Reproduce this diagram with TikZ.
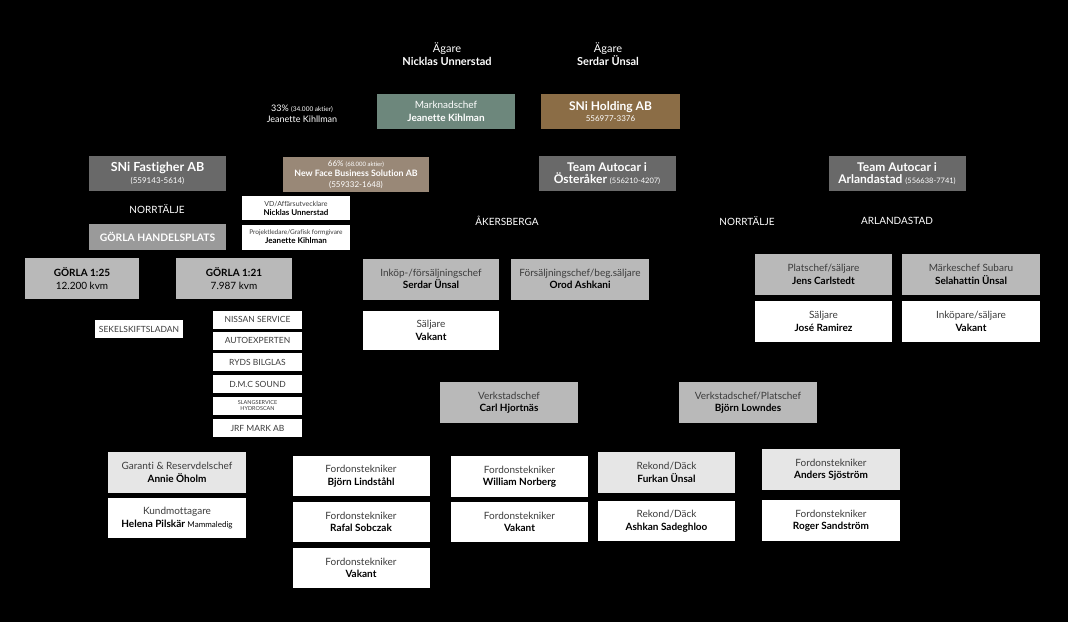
\documentclass[tikz,border=0pt]{standalone}
\usepackage{fontspec}
\setmainfont{Lato}[Ligatures=NoCommon]
\usepackage{xcolor}
\definecolor{mossgreen}{HTML}{6D877C}
\definecolor{bronze}{HTML}{8B6D46}
\definecolor{taupe}{HTML}{998877}
\definecolor{darkgrey}{HTML}{696969}
\definecolor{midgrey}{HTML}{9A9A9A}
\definecolor{boxgrey}{HTML}{B9B9B9}
\definecolor{palegrey}{HTML}{E6E6E6}
\definecolor{rolegrey}{HTML}{3C3C3C}
\newcommand{\roll}[2]{{\color{rolegrey}#1}\\\textbf{#2}}
\newcommand{\fsz}[2]{\fontsize{#1}{#2}\selectfont}

\begin{document}
\begin{tikzpicture}[x=1pt,y=-1pt,
    box/.style={inner sep=0pt,align=center,minimum width=137pt,minimum height=41pt,font=\fsz{10}{12.5}},
    greybox/.style={box,fill=boxgrey},
    palebox/.style={box,fill=palegrey},
    whitebox/.style={box,fill=white},
    darkbox/.style={box,fill=darkgrey,text=white,minimum height=35pt,font=\fsz{12}{12}\bfseries},
    listbox/.style={fill=white,inner sep=0pt,minimum width=89pt,minimum height=18pt,text=rolegrey,font=\fsz{8.5}{10}},
    tag/.style={text=white,align=center,font=\fsz{10}{12}},
    link/.style={black,thin}]%
  \fill[black] (0,0) rectangle (1068,622);%
  % owners
  \node[tag,font=\fsz{11}{13.5}] (own1) at (447,54) {Ägare\\\textbf{Nicklas Unnerstad}};%
  \node[tag,font=\fsz{11}{13.5}] (own2) at (608,54) {Ägare\\\textbf{Serdar Ünsal}};%
  \node[tag,font=\fsz{9}{11}] (share) at (302,114) {33\% {\fsz{6.5}{8}(34.000 aktier)}\\Jeanette Kihllman};%
  \node[box,fill=mossgreen,text=white,minimum width=138pt,minimum height=35pt] (mark) at (446,111.5) {Marknadschef\\\textbf{Jeanette Kihlman}};%
  \node[box,fill=bronze,text=white,minimum width=139pt,minimum height=35pt,font=\fsz{8}{11}] (hold) at (610.5,111.5) {{\fsz{12}{11}\bfseries SNi Holding AB}\\556977-3376};%
  % companies
  \node[darkbox,font=\fsz{12.5}{12.5}\bfseries] (fast) at (157.5,173.5) {SNi Fastigher AB\\{\fsz{8}{12.5}\mdseries(559143-5614)}};%
  \node[box,fill=taupe,text=white,minimum width=146pt,minimum height=35pt,font=\fsz{8}{10.5}] (newf) at (356,174.5) {66\% {\fsz{6}{8}(68.000 aktier)}\\{\fsz{8.8}{10.5}\bfseries New Face Business Solution AB}\\(559332-1648)};%
  \node[darkbox] (oste) at (607,173.5) {Team Autocar i\\Österåker {\fsz{7.5}{11}\mdseries(556210-4207)}};%
  \node[darkbox] (arla) at (897,173.5) {Team Autocar i\\Arlandastad {\fsz{7.5}{11}\mdseries(556638-7741)}};%
  \node[tag] (norr1) at (157,209) {NORRTÄLJE};%
  \node[box,fill=midgrey,text=white,minimum height=26pt,font=\fsz{10.3}{13}\bfseries] (handel) at (157.5,237) {GÖRLA HANDELSPLATS};%
  \node[whitebox,minimum width=108pt,minimum height=24pt,font=\fsz{7}{9}] (vd) at (296,208) {\roll{VD/Affärsutvecklare}{\fsz{8}{9}Nicklas Unnerstad}};%
  \node[whitebox,minimum width=108pt,minimum height=25pt,font=\fsz{6.5}{9}] (proj) at (296,237) {\roll{Projektledare/Grafisk formgivare}{\fsz{8}{9}Jeanette Kihlman}};%
  \node[tag] (akers) at (507,221) {ÅKERSBERGA};%
  \node[tag] (norr2) at (747,221) {NORRTÄLJE};%
  \node[tag] (arland) at (897,221) {ARLANDASTAD};%
  % sites and sales
  \node[greybox,minimum width=114pt] (g25) at (82,278.5) {\textbf{GÖRLA 1:25}\\12.200 kvm};%
  \node[greybox,minimum width=116pt] (g21) at (234,278.5) {\textbf{GÖRLA 1:21}\\7.987 kvm};%
  \node[greybox,minimum width=136pt] (inkop) at (431,279) {\roll{Inköp-/försäljningschef}{Serdar Ünsal}};%
  \node[greybox,minimum width=138pt] (orod) at (580,279) {\roll{Försäljningschef/beg.säljare}{Orod Ashkani}};%
  \node[greybox] (jens) at (823.5,274.5) {\roll{Platschef/säljare}{Jens Carlstedt}};%
  \node[greybox,minimum width=138pt] (sela) at (971,274.5) {\roll{Märkeschef Subaru}{Selahattin Ünsal}};%
  \node[listbox,minimum width=88pt] (sekel) at (139,329) {SEKELSKIFTSLADAN};%
  \node[listbox] (nissan) at (257.5,319.5) {NISSAN SERVICE};%
  \node[listbox] (autoex) at (257.5,340.5) {AUTOEXPERTEN};%
  \node[listbox] (ryds) at (257.5,362) {RYDS BILGLAS};%
  \node[listbox] (dmc) at (257.5,384) {D.M.C SOUND};%
  \node[listbox,align=center,font=\fsz{5.5}{6.5}] (slang) at (257.5,405.5) {SLANGSERVICE\\HYDROSCAN};%
  \node[listbox] (jrf) at (257.5,428) {JRF MARK AB};%
  \node[whitebox,minimum width=136pt,minimum height=39pt] (salj1) at (431,330.5) {\roll{Säljare}{Vakant}};%
  \node[whitebox] (jose) at (823.5,321.5) {\roll{Säljare}{José Ramirez}};%
  \node[whitebox,minimum width=138pt] (inkp) at (971,321.5) {\roll{Inköpare/säljare}{Vakant}};%
  % workshops
  \node[greybox,minimum width=138pt] (carl) at (509,402.5) {\roll{Verkstadschef}{Carl Hjortnäs}};%
  \node[greybox,minimum width=138pt] (lown) at (748,402.5) {\roll{Verkstadschef/Platschef}{Björn Lowndes}};%
  \node[palebox,minimum width=138pt] (garanti) at (177,472.5) {\roll{Garanti \& Reservdelschef}{Annie Öholm}};%
  \node[whitebox,minimum width=138pt,minimum height=40pt] (kund) at (177,518) {\roll{Kundmottagare}{Helena Pilskär {\fsz{8}{10}\mdseries Mammaledig}}};%
  \node[whitebox,minimum height=40pt] (bjorn) at (361,476) {\roll{Fordonstekniker}{Björn Lindståhl}};%
  \node[whitebox,minimum height=40pt] (rafal) at (361,522) {\roll{Fordonstekniker}{Rafal Sobczak}};%
  \node[whitebox,minimum height=40pt] (vak1) at (361,568) {\roll{Fordonstekniker}{Vakant}};%
  \node[whitebox] (will) at (519.5,476.5) {\roll{Fordonstekniker}{William Norberg}};%
  \node[whitebox,minimum height=40pt] (vak2) at (519.5,522) {\roll{Fordonstekniker}{Vakant}};%
  \node[palebox] (furk) at (666.5,472.5) {\roll{Rekond/Däck}{Furkan Ünsal}};%
  \node[whitebox,minimum height=40pt] (ashk) at (666.5,521) {\roll{Rekond/Däck}{Ashkan Sadeghloo}};%
  \node[palebox,minimum width=138pt] (anders) at (831,469.5) {\roll{Fordonstekniker}{Anders Sjöström}};%
  \node[whitebox,minimum width=138pt] (roger) at (831,520.5) {\roll{Fordonstekniker}{Roger Sandström}};%
  % links (black on black)
  \draw[link] (fast) to (handel);%
  \draw[link] (g25) to (g21);%
  \draw[link] (inkop) to (orod);%
  \draw[link] (garanti) to (bjorn);%
\end{tikzpicture}
\end{document}
